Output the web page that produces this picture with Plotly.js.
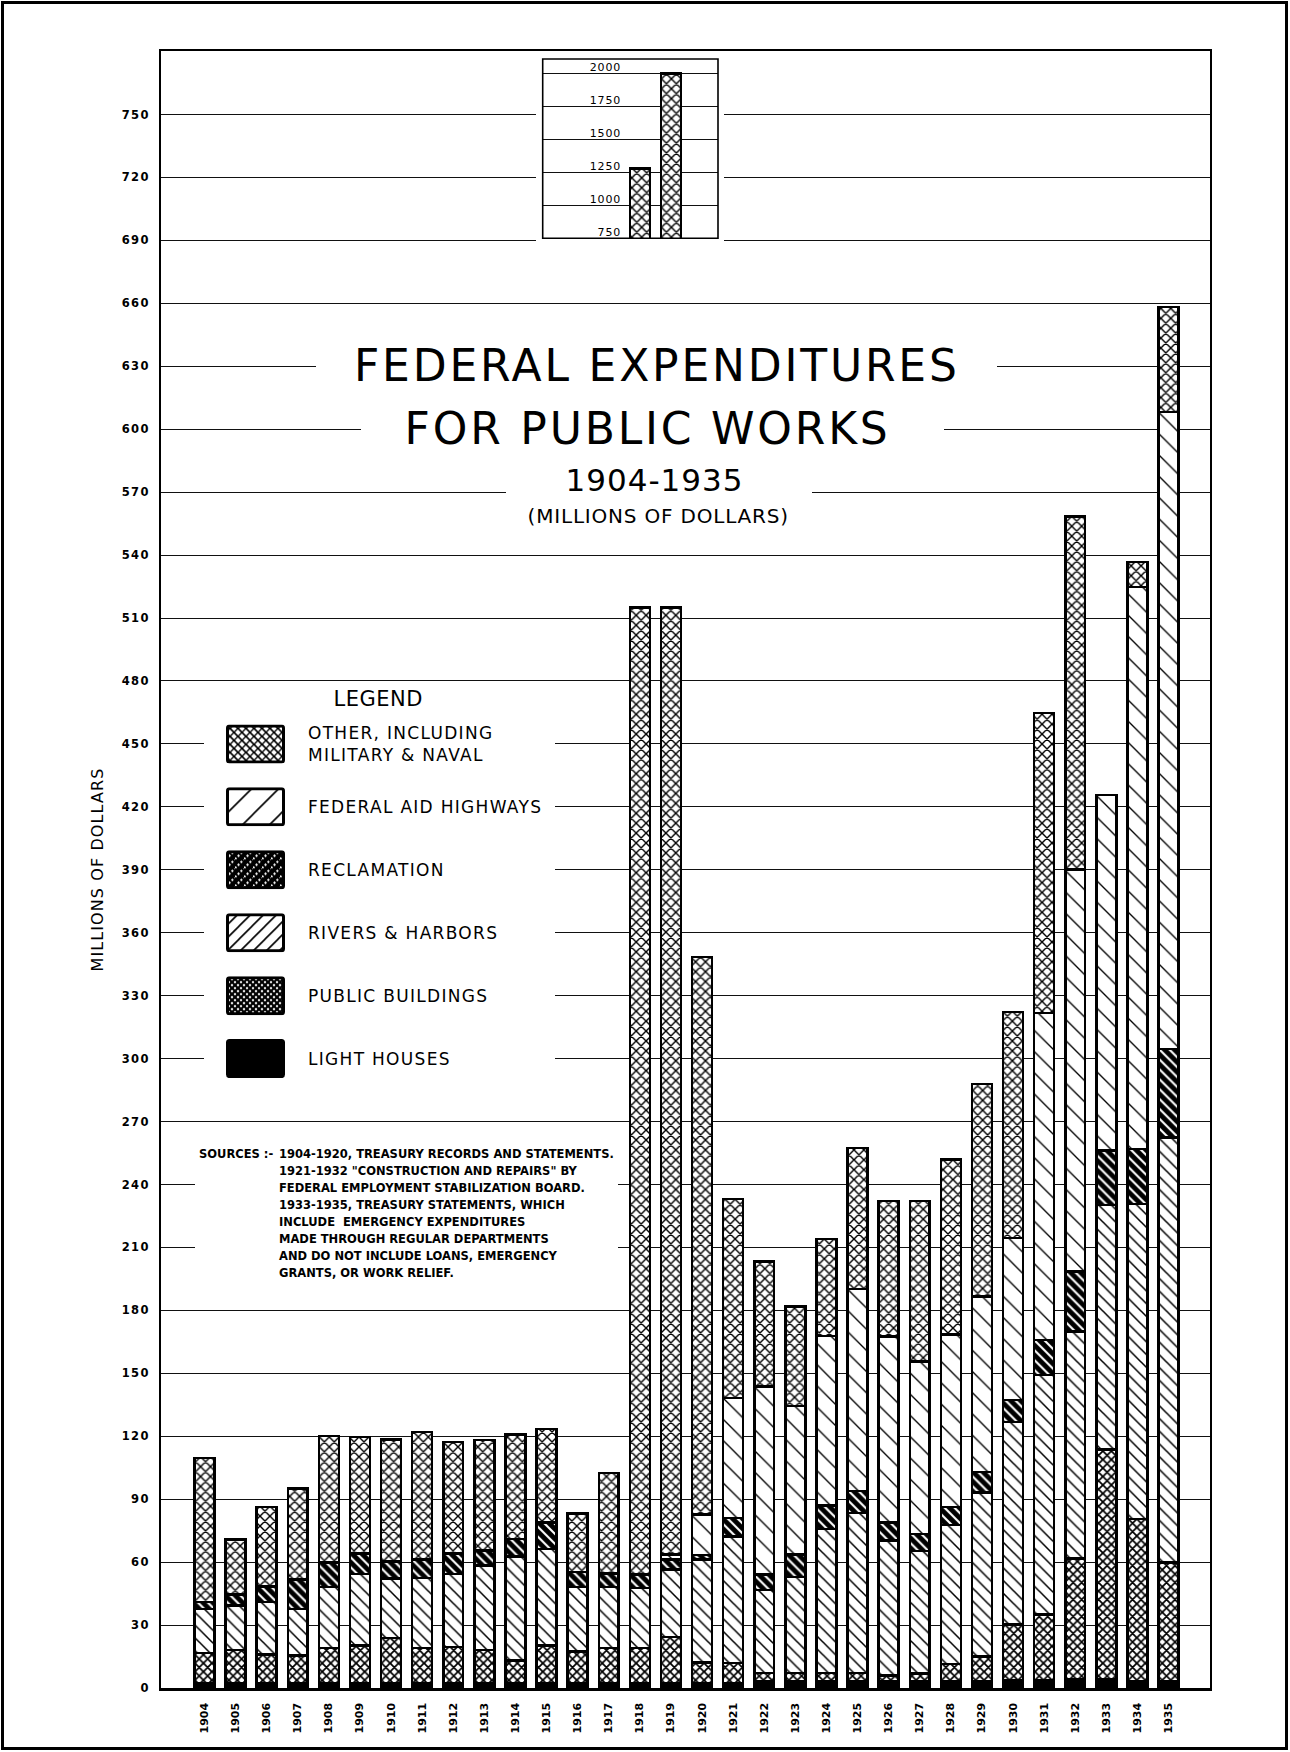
<!DOCTYPE html>
<html><head><meta charset="utf-8">
<script src="https://cdn.plot.ly/plotly-3.0.1.min.js"></script>
<style>
html,body{margin:0;padding:0;background:#fff;}
#chart{width:1290px;height:1752px;}
#frame{position:absolute;left:1px;top:1px;width:1287px;height:1749px;border:3px solid #000;box-sizing:border-box;pointer-events:none;}
.ytitle{letter-spacing:1.1px;}
.ytick text{letter-spacing:1.3px;}
.y2tick text{letter-spacing:0.8px;}
</style></head><body>
<div id="chart"></div><div id="frame"></div>
<script>
// ---------------- DATA (millions of dollars) ----------------
const years = [1904,1905,1906,1907,1908,1909,1910,1911,1912,1913,1914,1915,1916,1917,1918,1919,1920,1921,1922,1923,1924,1925,1926,1927,1928,1929,1930,1931,1932,1933,1934,1935];
const yearLabels = ['1904','1905','1906','1907','1908','1909','1910','1911','1912','1913','1914','1915','1916','1917','1918','1919','1920','1921','1922','1923','1924','1925','1926','1927','1928','1929','1930','1931','1932','1933','1934','1935'];
const lightHouses     = [2.4,2.4,2.4,2.4,2.1,2.1,2.1,2.1,2.1,2.1,2.1,2.1,2.1,2.1,2.1,2.1,2.1,2.1,3,3,3,3,3,3,3,3,3.5,3.5,4,4,3,3];
const publicBuildings = [14.3,15.6,13.5,13.2,17.0,18.1,21.7,17.0,17.5,15.9,10.9,18.1,15.4,17.0,17.0,22.2,10.1,9.8,4.2,4.2,4.2,4.2,3.0,3.8,8.4,12.1,26.7,31.5,57.7,109.7,77.6,56.9];
const riversHarbors   = [21.0,21.3,25.0,22.1,29.1,34.2,28.3,33.4,34.8,40.5,49.8,46.1,30.7,29.1,28.6,32.1,49.0,60.4,39.4,45.7,68.6,76.3,64.3,58.4,66.2,78.2,96.5,114.2,108.2,116.6,150.1,202.6];
const reclamation     = [3.2,5.2,7.6,14.0,11.7,9.7,8.3,8.7,9.7,7.0,8.3,12.7,7.0,6.3,6.4,4.8,2.1,8.8,7.5,10.7,11.2,10.3,8.7,8.2,8.7,9.6,10.5,16.7,28.6,25.9,26.1,42.1];
const federalHighways = [0,0,0,0,0,0,0,0,0,0,0,0,0,0,0,2.4,19.4,57.2,89.5,70.7,80.8,96.3,88.5,82.2,82.3,83.7,77.2,155.9,191.6,169.4,268.1,303.5];
const otherMilitary   = [68.8,26.2,37.8,43.4,60.1,55.5,58.0,60.9,53.2,52.6,49.7,44.5,27.9,48.0,1225.9,1934.0,265.8,94.7,59.6,47.5,46.3,67.2,64.7,76.6,83.4,101.2,107.9,142.9,168.4,0,11.9,50.1];
const yTicks = [0,30,60,90,120,150,180,210,240,270,300,330,360,390,420,450,480,510,540,570,600,630,660,690,720,750];
const insetTicks = [750,1000,1250,1500,1750,2000];
const insetYears = [1918,1919];
const mainBreak = 515;   // the two inset years are broken off here in the main chart
const seriesNames = ['LIGHT HOUSES','PUBLIC BUILDINGS','RIVERS &amp; HARBORS','RECLAMATION','FEDERAL AID HIGHWAYS','OTHER, INCLUDING<br>MILITARY &amp; NAVAL'];
const sourceLines = [
  '1904-1920, TREASURY RECORDS AND STATEMENTS.',
  '1921-1932 "CONSTRUCTION AND REPAIRS" BY',
  'FEDERAL EMPLOYMENT STABILIZATION BOARD.',
  '1933-1935, TREASURY STATEMENTS, WHICH',
  'INCLUDE  EMERGENCY EXPENDITURES',
  'MADE THROUGH REGULAR DEPARTMENTS',
  'AND DO NOT INCLUDE LOANS, EMERGENCY',
  'GRANTS, OR WORK RELIEF.'
];

// ---------------- GEOMETRY HELPERS ----------------
const FONT = 'DejaVu Sans, Verdana, sans-serif';
const xv = px => 1904 + (px - 204.4) / 31.1;   // page px -> x units
const yv = py => (1688 - py) / 2.098;          // page px -> y units
const BW = 0.64;

// ---------------- TRACES ----------------
const lowerSeries = [lightHouses, publicBuildings, riversHarbors, reclamation, federalHighways];
const baseBelowOther = years.map((_, i) => lowerSeries.reduce((s, a) => s + a[i], 0));
const totals = years.map((_, i) => baseBelowOther[i] + otherMilitary[i]);
const otherShown = years.map((yr, i) => insetYears.includes(yr)
  ? Math.max(0, Math.min(totals[i], mainBreak) - baseBelowOther[i]) : otherMilitary[i]);

const pats = {
  pb: {shape:'x', size:6, solidity:0.5, fgcolor:'#000', bgcolor:'#fff', fillmode:'replace'},
  rh: {shape:'\\', size:9, solidity:0.17, fgcolor:'#000', bgcolor:'#fff', fillmode:'replace'},
  recl: {shape:'\\', size:7, solidity:0.3, fgcolor:'#fff', bgcolor:'#000', fillmode:'replace'},
  hwy: {shape:'\\', size:15, solidity:0.09, fgcolor:'#000', bgcolor:'#fff', fillmode:'replace'},
  other: {shape:'x', size:7, solidity:0.36, fgcolor:'#000', bgcolor:'#fff', fillmode:'replace'}
};
function bar(name, y, pat, color, xa, ya, xs) {
  const m = {color: color, line: {color:'#000', width:2.5}};
  if (pat) m.pattern = pat;
  return {type:'bar', name:name, x: xs || years, y:y, width:BW, marker:m,
          xaxis: xa || 'x', yaxis: ya || 'y', hoverinfo:'skip', showlegend:false};
}
const traces = [
  bar('Light houses', lightHouses, null, '#000'),
  bar('Public buildings', publicBuildings, pats.pb, '#fff'),
  bar('Rivers & harbors', riversHarbors, pats.rh, '#fff'),
  bar('Reclamation', reclamation, pats.recl, '#000'),
  bar('Federal aid highways', federalHighways, pats.hwy, '#fff'),
  bar('Other', otherShown, pats.other, '#fff'),
  bar('Other (inset)', insetYears.map(yr => totals[years.indexOf(yr)]), pats.other, '#fff', 'x2', 'y2', insetYears)
];

// ---------------- LEGEND SWATCHES (SVG) ----------------
function swatch(kind) {
  const w = 59, h = 39;
  let defs = '', base = '#fff', pfill = '';
  const diag = (s, col, sw, dash, dir) => {
    const d = dir === 'b'
      ? `M0,${s} L${s},0 M${-s/4},${s/4} L${s/4},${-s/4} M${3*s/4},${5*s/4} L${5*s/4},${3*s/4}`
      : `M0,0 L${s},${s} M${-s/4},${3*s/4} L${s/4},${5*s/4} M${3*s/4},${-s/4} L${5*s/4},${s/4}`;
    return `<path d="${d}" stroke="${col}" stroke-width="${sw}" ${dash ? 'stroke-dasharray="'+dash+'"' : ''} fill="none"/>`;
  };
  if (kind === 'lh') base = '#000';
  if (kind === 'pb') { defs = `<pattern id="p" width="6" height="6" patternUnits="userSpaceOnUse">${diag(6,'#000',2.2,'', 'b')}${diag(6,'#000',2.2,'', 'f')}</pattern>`; pfill='url(#p)'; }
  if (kind === 'rh') { defs = `<pattern id="p" width="13" height="13" patternUnits="userSpaceOnUse">${diag(13,'#000',1.6,'', 'b')}</pattern>`; pfill='url(#p)'; }
  if (kind === 'hwy') { defs = `<pattern id="p" width="27" height="27" patternUnits="userSpaceOnUse">${diag(27,'#000',1.6,'', 'b')}</pattern>`; pfill='url(#p)'; }
  if (kind === 'recl') { base = '#000'; defs = `<pattern id="p" width="9" height="9" patternUnits="userSpaceOnUse">${diag(9,'#fff',2,'2,2', 'b')}</pattern>`; pfill='url(#p)'; }
  if (kind === 'other') { defs = `<pattern id="p" width="8" height="8" patternUnits="userSpaceOnUse">${diag(8,'#000',1.3,'', 'b')}${diag(8,'#000',1.6,'', 'f')}</pattern>`; pfill='url(#p)'; }
  const svg = `<svg xmlns="http://www.w3.org/2000/svg" width="${w}" height="${h}" viewBox="0 0 ${w} ${h}"><defs>${defs}</defs>`
    + `<rect x="1.5" y="1.5" width="${w-3}" height="${h-3}" rx="2" fill="${base}"/>`
    + (pfill ? `<rect x="1.5" y="1.5" width="${w-3}" height="${h-3}" rx="2" fill="${pfill}"/>` : '')
    + `<rect x="1.5" y="1.5" width="${w-3}" height="${h-3}" rx="2" fill="none" stroke="#000" stroke-width="3"/></svg>`;
  return 'data:image/svg+xml;charset=utf-8,' + encodeURIComponent(svg);
}

const images = [], annotations = [], shapes = [], spacing = [];
function addAnn(a, ls) { spacing.push(ls || 0); annotations.push(a); }

const legendKinds = ['other','hwy','recl','rh','pb','lh'];          // top to bottom
const legendNames = [seriesNames[5], seriesNames[4], seriesNames[3], seriesNames[2], seriesNames[1], seriesNames[0]];
legendKinds.forEach((k, i) => {
  const v = 450 - 30 * i;
  images.push({source: swatch(k), xref:'x', yref:'y', x: xv(226), y: v + 19.5/2.098,
               sizex: 59/31.1, sizey: 39/2.098, xanchor:'left', yanchor:'top', sizing:'stretch', layer:'above'});
  addAnn({text: legendNames[i], xref:'x', yref:'y', x: xv(306), y: v, xanchor:'left', yanchor:'middle',
          align:'left', showarrow:false, font:{family:FONT, size:17, color:'#000'}}, 1.3);
});
addAnn({text:'LEGEND', xref:'x', yref:'y', x: xv(378), y: 471.5, showarrow:false,
        font:{family:FONT, size:21, color:'#000'}}, 0.5);

// titles
const titleTexts = [
  ['FEDERAL EXPENDITURES', 656.7, 630.5, 44, 2.8],
  ['FOR PUBLIC WORKS', 647.8, 600.2, 44, 2.8],
  ['1904-1935', 654.5, 575.6, 31, 1],
  ['(MILLIONS OF DOLLARS)', 657.9, 558.6, 20, 0.8]
];
titleTexts.forEach(t => addAnn({text:t[0], xref:'x', yref:'y', x: xv(t[1]), y: t[2], showarrow:false,
  font:{family:FONT, size:t[3], color:'#000'}}, t[4]));

// sources
addAnn({text:'SOURCES :-', xref:'x', yref:'y', x: xv(275), y: 254.7, xanchor:'right', showarrow:false,
  font:{family:FONT, size:11.5, color:'#000', weight:'bold'}}, 0);
sourceLines.forEach((ln, i) => addAnn({text: ln, xref:'x', yref:'y', x: xv(277), y: 254.7 - i * 17 / 2.098,
  xanchor:'left', showarrow:false, font:{family:FONT, size:11.5, color:'#000', weight:'bold'}}, 0));

// letter spacing per annotation (the lettering of the original is widely spaced)
const css = spacing.map((ls, i) => ls ? `g.annotation[data-index="${i}"] text{letter-spacing:${ls}px;}` : '').join('\n');
const st = document.createElement('style'); st.textContent = css; document.head.appendChild(st);

// white masks that break the grid lines behind texts, legend and inset
const masks = [[316,997,625,635],[361,944,595,605],[506,812,565,575],[204,555,290,460],[195,618,195,255],[536,724,685,779]];
masks.forEach(m => shapes.push({type:'rect', xref:'x', yref:'y', x0: xv(m[0]), x1: xv(m[1]), y0: m[2], y1: m[3],
  fillcolor:'#fff', line:{width:0}, layer:'between'}));
// inset frame
shapes.push({type:'rect', xref:'x2 domain', yref:'y2 domain', x0:0, x1:1, y0:0, y1:1, line:{color:'#000', width:1.6}, layer:'above'});

const layout = {
  width:1290, height:1752,
  margin:{l:161, r:80, t:51, b:64},
  paper_bgcolor:'#fff', plot_bgcolor:'#fff',
  barmode:'stack', bargap:0,
  showlegend:false,
  font:{family:FONT, color:'#000'},
  xaxis:{range:[xv(161), xv(1210)], tickmode:'array', tickvals:years, ticktext:yearLabels, tickangle:-90,
         tickfont:{family:FONT, size:11, color:'#000', weight:'bold'}, ticks:'', ticklabelstandoff:8,
         showgrid:false, zeroline:false, showline:true, linecolor:'#000', linewidth:2.5, mirror:true, fixedrange:true},
  yaxis:{range:[0, yv(51)], tickmode:'array', tickvals:yTicks, ticks:'', ticklabelstandoff:7,
         tickfont:{family:FONT, size:11.5, color:'#000', weight:'bold'},
         showgrid:true, gridcolor:'#111', gridwidth:1, zeroline:false,
         showline:true, linecolor:'#000', linewidth:2, mirror:true, fixedrange:true,
         title:{text:'MILLIONS OF DOLLARS', standoff:14, font:{family:FONT, size:16, color:'#000'}}},
  xaxis2:{domain:[(542.7-161)/1049, (718-161)/1049], range:[xv(542.7), xv(718)], anchor:'y2',
          showticklabels:false, showgrid:false, zeroline:false, showline:false, ticks:'', fixedrange:true},
  yaxis2:{domain:[(1688-238.3)/1637, (1688-59)/1637], range:[750, 2000 + (73.3-59)*1250/165], anchor:'free',
          position:(623-161)/1049, side:'left', tickmode:'array', tickvals:insetTicks, ticks:'',
          ticklabelshift:-6, ticklabelstandoff:2,
          tickfont:{family:FONT, size:11, color:'#000'}, showgrid:true, gridcolor:'#111', gridwidth:1,
          zeroline:false, showline:false, fixedrange:true},
  shapes:shapes, annotations:annotations, images:images
};
Plotly.newPlot('chart', traces, layout, {staticPlot:true, displayModeBar:false});
</script>
</body></html>
